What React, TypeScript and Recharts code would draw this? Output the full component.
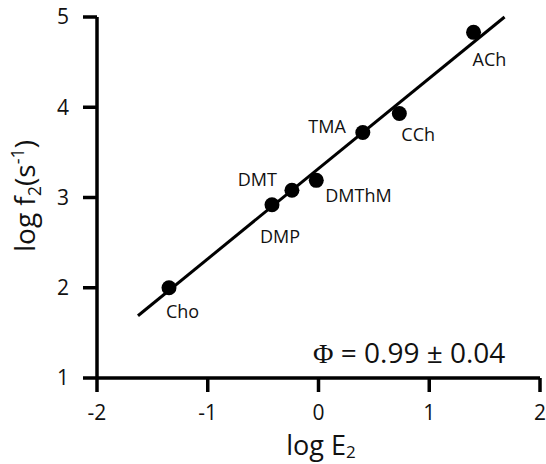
import { ScatterChart, Scatter, XAxis, YAxis, ReferenceLine } from 'recharts';

const compounds = ['Cho', 'DMP', 'DMT', 'DMThM', 'TMA', 'CCh', 'ACh'];
const logE2 = [-1.35, -0.42, -0.24, -0.02, 0.4, 0.73, 1.4];
const logF2 = [2.0, 2.92, 3.08, 3.19, 3.72, 3.93, 4.83];

const xTicks = [-2, -1, 0, 1, 2];
const yTicks = [1, 2, 3, 4, 5];

// fitted line ends (slope ~1)
const fitStart = { x: -1.63, y: 1.69 };
const fitEnd = { x: 1.68, y: 5.0 };

const data = compounds.map((name, i) => ({ name, x: logE2[i], y: logF2[i] }));

// where each compound label sits relative to its dot
const labelPlacement: Record<string, { dx: number; dy: number; anchor: 'start' | 'end' }> = {
  Cho: { dx: -3, dy: 30, anchor: 'start' },
  DMP: { dx: -12, dy: 38, anchor: 'start' },
  DMT: { dx: -15, dy: -4, anchor: 'end' },
  DMThM: { dx: 9, dy: 22, anchor: 'start' },
  TMA: { dx: -17, dy: 0, anchor: 'end' },
  CCh: { dx: 2, dy: 27, anchor: 'start' },
  ACh: { dx: -1, dy: 34, anchor: 'start' },
};

const FONT = '"Open Sans", sans-serif';
const axisStyle = { stroke: '#000', strokeWidth: 3.5 };

function Dot(props: any) {
  const { cx, cy, payload } = props;
  if (cx == null || cy == null) return null;
  const p = labelPlacement[payload.name];
  return (
    <g>
      <circle cx={cx} cy={cy} r={7.5} fill="#000" />
      <text
        x={cx + p.dx}
        y={cy + p.dy}
        textAnchor={p.anchor}
        fontFamily={FONT}
        fontSize={18}
        fill="#111"
      >
        {payload.name}
      </text>
    </g>
  );
}

export default function App() {
  return (
    <div style={{ position: 'absolute', left: 0, top: 0 }}>
      <ScatterChart width={546} height={464} margin={{ top: 17, right: 6, bottom: 0, left: 0 }}>
        <XAxis
          type="number"
          dataKey="x"
          domain={[-2, 2]}
          ticks={xTicks}
          height={86}
          tickSize={14}
          tickMargin={13}
          axisLine={axisStyle}
          tickLine={axisStyle}
          tick={{ fill: '#111', fontSize: 21, fontFamily: FONT }}
        />
        <YAxis
          type="number"
          dataKey="y"
          domain={[1, 5]}
          ticks={yTicks}
          width={97}
          tickSize={14}
          tickMargin={14}
          axisLine={axisStyle}
          tickLine={axisStyle}
          tick={{ fill: '#111', fontSize: 21, fontFamily: FONT }}
        />
        <ReferenceLine
          segment={[fitStart, fitEnd]}
          stroke="#000"
          strokeWidth={3}
          ifOverflow="visible"
        />
        <Scatter data={data} shape={<Dot />} isAnimationActive={false} />
        <text
          x={35}
          y={196}
          transform="rotate(-90 35 196)"
          textAnchor="middle"
          fontFamily={FONT}
          fontSize={28}
          fill="#111"
        >
          log f<tspan fontSize={18} dy={6}>2</tspan>
          <tspan dy={-6}>(s</tspan>
          <tspan fontSize={18} dy={-11}>-1</tspan>
          <tspan dy={11}>)</tspan>
        </text>
        <text x={321} y={455} textAnchor="middle" fontFamily={FONT} fontSize={27} fill="#111">
          log E<tspan fontSize={17} dy={3}>2</tspan>
        </text>
        <text x={313} y={363} fontFamily={FONT} fontSize={28} fill="#111">
          <tspan fontFamily='"Liberation Serif", serif'>Φ</tspan> = 0.99 ± 0.04
        </text>
      </ScatterChart>
    </div>
  );
}
